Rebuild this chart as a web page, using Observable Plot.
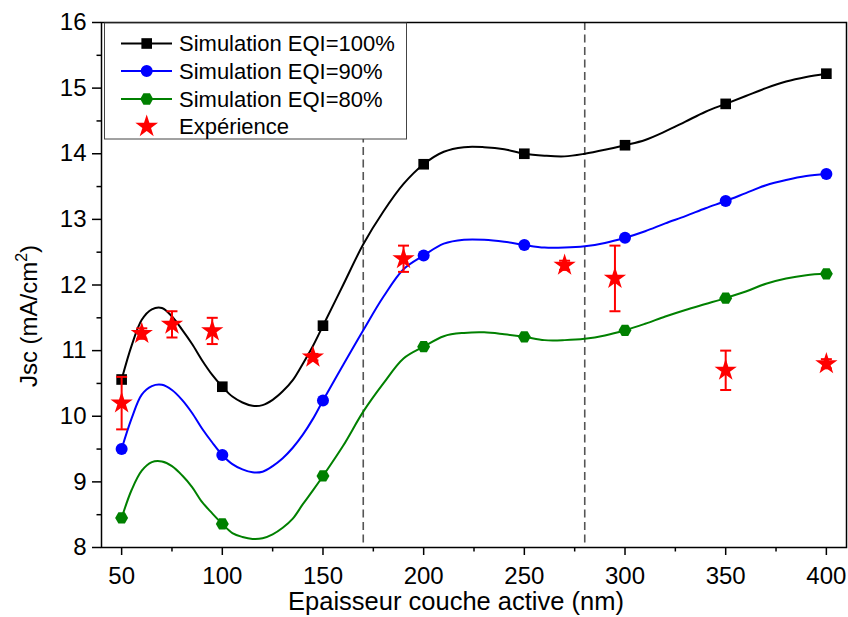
<!DOCTYPE html>
<html>
<head>
<meta charset="utf-8">
<script src="https://cdn.jsdelivr.net/npm/d3@7"></script>
<script src="https://cdn.jsdelivr.net/npm/@observablehq/plot@0.6"></script>
<style>
  html, body { margin: 0; padding: 0; background: white; }
  #chart { width: 848px; height: 617px; }
</style>
</head>
<body>
<div id="chart"></div>
<script>
// ---- data ----
const simX = [50,55,60,65,70,75,80,85,90,95,100,105,110,115,120,125,130,135,140,145,150,
  160,170,180,190,200,210,220,230,240,250,260,270,280,290,300,310,320,330,340,350,360,370,380,390,400];
const sim100 = [10.56,11.08,11.47,11.63,11.65,11.52,11.32,11.10,10.85,10.63,10.45,10.30,10.21,10.16,10.17,10.25,10.38,10.55,10.80,11.07,11.38,
  12.00,12.62,13.12,13.54,13.84,14.03,14.10,14.10,14.07,14.00,13.97,13.96,14.00,14.06,14.13,14.21,14.34,14.49,14.64,14.76,14.88,15.00,15.10,15.17,15.22];
const sim90 = [9.50,9.97,10.33,10.46,10.48,10.40,10.25,10.05,9.81,9.60,9.41,9.27,9.19,9.145,9.155,9.24,9.36,9.52,9.72,9.96,10.24,
  10.78,11.31,11.82,12.24,12.45,12.63,12.69,12.69,12.66,12.61,12.57,12.57,12.59,12.64,12.72,12.82,12.94,13.05,13.17,13.28,13.40,13.52,13.60,13.66,13.69];
const sim80 = [8.45,8.88,9.17,9.30,9.31,9.24,9.10,8.92,8.69,8.52,8.36,8.22,8.16,8.13,8.14,8.20,8.30,8.44,8.66,8.87,9.09,
  9.55,10.07,10.50,10.88,11.06,11.22,11.27,11.28,11.25,11.21,11.16,11.16,11.18,11.23,11.31,11.41,11.52,11.62,11.71,11.80,11.90,12.02,12.10,12.15,12.17];

const markX = [50,100,150,200,250,300,350,400];
const mark100 = [10.56,10.45,11.38,13.84,14.00,14.13,14.76,15.22];
const mark90 = [9.50,9.41,10.24,12.45,12.61,12.72,13.28,13.69];
const mark80 = [8.45,8.36,9.09,11.06,11.21,11.31,11.80,12.17];

const expX = [50,60,75,95,145,190,270,295,350,400];
const expY = [10.2,11.26,11.4,11.3,10.9,12.4,12.3,12.1,10.7,10.8];
const expErr = [0.4,0.08,0.2,0.2,0.05,0.2,0.07,0.5,0.3,0.07];

const dashX = [170, 280];
const xTicks = [50,100,150,200,250,300,350,400];
const xMinor = [75,125,175,225,275,325,375];
const yTicks = [8,9,10,11,12,13,14,15,16];
const yMinor = [8.5,9.5,10.5,11.5,12.5,13.5,14.5,15.5];

const seriesNames = ["Simulation EQI=100%", "Simulation EQI=90%", "Simulation EQI=80%", "Expérience"];
const seriesColors = ["black", "#0000ff", "#008000", "#ff0000"];

// ---- tables ----
const curve = (ys) => simX.map((x, i) => ({x, y: ys[i]}));
const marks = (ys) => markX.map((x, i) => ({x, y: ys[i]}));
const expRows = expX.map((x, i) => ({x, y: expY[i], lo: expY[i] - expErr[i], hi: expY[i] + expErr[i]}));

// ---- custom symbols ----
const hexagon = {
  draw(ctx, size) {
    const r = Math.sqrt(size / Math.PI) * 1.08;
    for (let i = 0; i < 6; i++) {
      const a = i * Math.PI / 3;
      const px = r * Math.cos(a), py = r * Math.sin(a);
      if (i === 0) ctx.moveTo(px, py); else ctx.lineTo(px, py);
    }
    ctx.closePath();
  }
};
const cap = {
  draw(ctx, size) {
    const w = Math.sqrt(size / Math.PI);
    ctx.moveTo(-w, 0); ctx.lineTo(w, 0);
  }
};

const chart = Plot.plot({
  width: 848,
  height: 617,
  marginLeft: 101,
  marginRight: 2,
  marginTop: 22,
  marginBottom: 70,
  style: {fontFamily: "'Liberation Sans', Arial, sans-serif", fontSize: "24px", background: "white", overflow: "visible", color: "black"},
  x: {domain: [40, 410]},
  y: {domain: [8, 16]},
  marks: [
    Plot.ruleX(dashX, {stroke: "#555", strokeWidth: 1.6, strokeDasharray: "8,4.5"}),
    Plot.line(curve(sim100), {x: "x", y: "y", stroke: seriesColors[0], strokeWidth: 2, curve: "catmull-rom"}),
    Plot.line(curve(sim90), {x: "x", y: "y", stroke: seriesColors[1], strokeWidth: 2, curve: "catmull-rom"}),
    Plot.line(curve(sim80), {x: "x", y: "y", stroke: seriesColors[2], strokeWidth: 2, curve: "catmull-rom"}),
    Plot.dot(marks(mark100), {x: "x", y: "y", symbol: "square", fill: seriesColors[0], r: 6}),
    Plot.dot(marks(mark90), {x: "x", y: "y", symbol: "circle", fill: seriesColors[1], r: 6}),
    Plot.dot(marks(mark80), {x: "x", y: "y", symbol: hexagon, fill: seriesColors[2], r: 6}),
    Plot.ruleX(expRows, {x: "x", y1: "lo", y2: "hi", stroke: seriesColors[3], strokeWidth: 2}),
    Plot.dot(expRows, {x: "x", y: "lo", symbol: cap, stroke: seriesColors[3], strokeWidth: 2, r: 5.5}),
    Plot.dot(expRows, {x: "x", y: "hi", symbol: cap, stroke: seriesColors[3], strokeWidth: 2, r: 5.5}),
    Plot.dot(expRows, {x: "x", y: "y", symbol: "star", fill: seriesColors[3], r: 7}),
    Plot.axisX({ticks: xTicks, tickSize: 8, tickPadding: 11, label: null, strokeWidth: 1.5, fontSize: 24}),
    Plot.axisX({ticks: xMinor, tickSize: 4.5, tickFormat: () => "", label: null, strokeWidth: 1.5}),
    Plot.axisY({ticks: yTicks, tickSize: 9, tickPadding: 6, label: null, strokeWidth: 1.5, fontSize: 24}),
    Plot.axisY({ticks: yMinor, tickSize: 4.5, tickFormat: () => "", label: null, strokeWidth: 1.5}),
    Plot.frame({stroke: "black", strokeWidth: 1.5})
  ]
});

document.getElementById("chart").appendChild(chart);

// ---- axis titles ----
const svg = d3.select(chart);
const font = "'Liberation Sans', Arial, sans-serif";
svg.append("text")
  .attr("x", 456).attr("y", 610)
  .attr("text-anchor", "middle")
  .attr("font-family", font).attr("font-size", 25.5).attr("fill", "black")
  .text("Epaisseur couche active (nm)");

const yl = svg.append("text")
  .attr("transform", "translate(37,316) rotate(-90)")
  .attr("text-anchor", "middle")
  .attr("font-family", font).attr("font-size", 24).attr("fill", "black");
yl.append("tspan").text("Jsc (mA/cm");
yl.append("tspan").attr("font-size", 16).attr("dy", -10).text("2");
yl.append("tspan").attr("font-size", 24).attr("dy", 10).text(")");

// ---- legend ----
const lg = svg.append("g");
lg.append("rect").attr("x", 104.5).attr("y", 23).attr("width", 302).attr("height", 116)
  .attr("fill", "white").attr("stroke", "#444").attr("stroke-width", 1);
const rowY = [43.5, 71, 99, 126.5];
const lineSymbols = [d3.symbolSquare, d3.symbolCircle, null, d3.symbolStar];
seriesNames.forEach((name, i) => {
  const y = rowY[i];
  const c = seriesColors[i];
  if (i < 3) {
    lg.append("line").attr("x1", 121).attr("x2", 172).attr("y1", y).attr("y2", y)
      .attr("stroke", c).attr("stroke-width", 2);
  }
  if (i === 2) {
    const r = 6.5;
    const pts = d3.range(6).map(k => [146.7 + r * Math.cos(k * Math.PI / 3), y + r * Math.sin(k * Math.PI / 3)]);
    lg.append("path").attr("d", "M" + pts.join("L") + "Z").attr("fill", c);
  } else {
    const size = i === 0 ? 113 : i === 1 ? 113 : 160;
    lg.append("path").attr("d", d3.symbol(lineSymbols[i], size)())
      .attr("transform", `translate(146.7,${y})`).attr("fill", c);
  }
  lg.append("text").attr("x", 179).attr("y", y).attr("dy", "0.36em")
    .attr("text-anchor", "start")
    .attr("font-family", font).attr("font-size", 22).attr("fill", "black").text(name);
});
</script>
</body>
</html>
